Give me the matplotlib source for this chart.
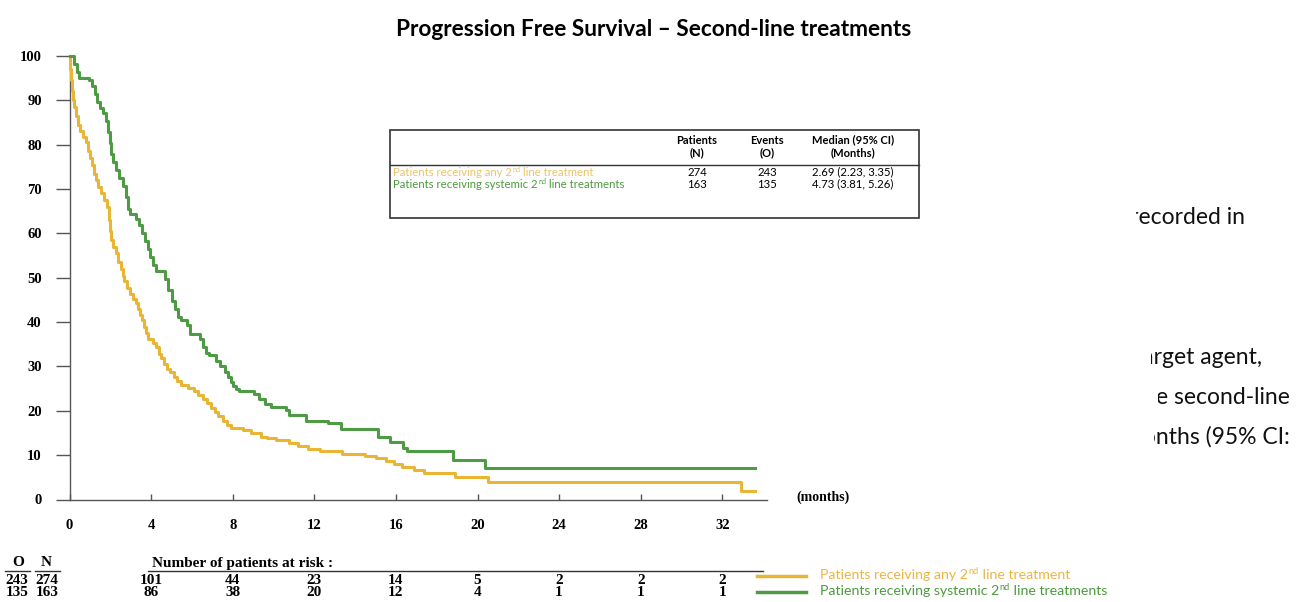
import matplotlib
matplotlib.use("Agg")
import matplotlib.pyplot as plt
from matplotlib.transforms import Bbox, TransformedBbox

# ---------------- data ----------------
title = "Progression Free Survival – Second-line treatments"

any_t = [0, 0.02, 0.05, 0.1, 0.15, 0.2, 0.3, 0.4, 0.5, 0.65, 0.8, 0.9, 1.0, 1.1, 1.2, 1.3, 1.4,
         1.55, 1.7, 1.85, 1.92, 1.98, 2.05, 2.15, 2.3, 2.4, 2.5, 2.6, 2.69, 2.8, 2.95, 3.1, 3.25,
         3.35, 3.45, 3.55, 3.65, 3.75, 3.85, 4.1, 4.25, 4.4, 4.5, 4.65, 4.8, 4.95, 5.1, 5.25, 5.45,
         5.8, 6.1, 6.3, 6.55, 6.75, 6.95, 7.15, 7.3, 7.5, 7.7, 7.9, 8.5, 8.9, 9.4, 9.7, 10.1,
         10.75, 11.2, 11.7, 12.3, 13.35, 14.5, 15.0, 15.5, 15.9, 16.3, 16.9, 17.4, 18.9, 20.5,
         32.9, 33.6]
any_s = [100, 97, 94.5, 92, 90, 88.4, 86.5, 84.5, 83.2, 81.8, 80.5, 78.5, 77, 75.5, 73.5, 72, 70.4,
         69, 67.5, 66, 63, 60.5, 58.5, 57, 55.5, 53.5, 52, 50.5, 49.3, 47.8, 46.4, 45.3, 44.2,
         43.0, 41.7, 40.5, 39.0, 37.5, 36.2, 35.4, 34.3, 32.8, 31.8, 30.6, 29.5, 28.8, 27.6, 26.8, 25.8,
         25.1, 24.4, 23.5, 22.6, 21.7, 20.7, 19.8, 18.9, 17.8, 16.8, 16.1, 15.6, 14.9, 14.2, 13.8, 13.4,
         12.8, 12.1, 11.3, 10.9, 10.3, 9.8, 9.3, 8.6, 8.0, 7.4, 6.6, 6.0, 5.1, 4.0,
         2.0, 2.0]

sys_t = [0, 0.2, 0.35, 0.45, 0.95, 1.1, 1.25, 1.35, 1.5, 1.65, 1.8, 1.9, 1.97, 2.05, 2.15, 2.3,
         2.45, 2.6, 2.75, 2.85, 2.95, 3.25, 3.4, 3.55, 3.7, 3.85, 3.95, 4.1, 4.25, 4.7, 4.85, 5.0,
         5.15, 5.3, 5.45, 5.75, 5.9, 6.4, 6.55, 6.7, 6.85, 7.2, 7.4, 7.6, 7.75, 7.9, 8.0, 8.15, 8.3,
         9.05, 9.3, 9.6, 9.9, 10.6, 10.75, 11.6, 12.65, 13.3, 15.1, 15.7, 16.35, 16.55, 18.8, 20.35,
         33.6]
sys_s = [100, 98.2, 96.3, 95.1, 94.5, 93.3, 91.4, 89.6, 88.3, 87.1, 85.3, 82.8, 80.4, 77.9, 76.1, 74.2,
         72.4, 70.6, 68.1, 65.6, 64.4, 63.2, 62.0, 60.1, 58.3, 56.4, 54.6, 52.8, 51.5, 49.7, 47.2, 44.8,
         42.9, 41.1, 40.5, 39.3, 37.4, 36.2, 34.4, 33.1, 32.5, 31.3, 30.1, 28.8, 27.6, 26.4, 25.6, 25.0, 24.4,
         23.9, 22.7, 21.5, 20.9, 20.2, 19.0, 17.8, 17.2, 15.9, 14.1, 12.9, 11.7, 10.9, 8.9, 7.1,
         7.1]

x_ticks = [0, 4, 8, 12, 16, 20, 24, 28, 32]
x_labels = ["0", "4", "8", "12", "16", "20", "24", "28", "32"]
y_ticks = [0, 10, 20, 30, 40, 50, 60, 70, 80, 90, 100]

risk_times = [4, 8, 12, 16, 20, 24, 28, 32]
risk_any = [101, 44, 23, 14, 5, 2, 2, 2]
risk_sys = [86, 38, 20, 12, 4, 1, 1, 1]
events = [243, 135]
patients = [274, 163]

# group names split as (before superscript, superscript, after)
group_names = [("Patients receiving any 2", "nd", " line treatment"),
               ("Patients receiving systemic 2", "nd", " line treatments")]
medians = ["2.69 (2.23, 3.35)", "4.73 (3.81, 5.26)"]

body_fragments = ["is recorded in", "target agent,", "e second-line", "months (95% CI:"]

# ---------------- style ----------------
W, H = 1298, 602
c_any = "#E8B634"
c_sys = "#4F9A45"
c_any_txt = "#EDB443"
c_any_tbl = "#E9C46A"
c_sys_txt = "#4E9A40"
serif = ["Liberation Serif", "DejaVu Serif"]
lato = ["Lato", "DejaVu Sans"]

fig = plt.figure(figsize=(W / 100, H / 100), dpi=100)
renderer = fig.canvas.get_renderer()


def fx(x):
    return x / W


def fy(y):
    return 1 - y / H


def rich_text(x_px, y_px, parts, size, sup_size, rise, color):
    """Place 'before', superscript, 'after' one after another (pixel coords)."""
    before, sup, after = parts
    cur = x_px
    t1 = fig.text(fx(cur), fy(y_px), before, family=lato, fontsize=size, color=color,
                  ha="left", va="center")
    cur += t1.get_window_extent(renderer).width
    t2 = fig.text(fx(cur + 0.5), fy(y_px - rise), sup, family=lato, fontsize=sup_size, color=color,
                  ha="left", va="center")
    cur += t2.get_window_extent(renderer).width + 0.5
    fig.text(fx(cur), fy(y_px), after, family=lato, fontsize=size, color=color,
             ha="left", va="center")


XMAX = 34.2
x0, ppm = 69.5, 20.4
x1 = x0 + ppm * XMAX
y0, y100 = 499.5, 56.0
ax = fig.add_axes([fx(x0), fy(y0), fx(x1) - fx(x0), fy(y100) - fy(y0)])
ax.set_xlim(0, XMAX)
ax.set_ylim(0, 100)
ax.step(any_t, any_s, where="post", color=c_any, lw=2.2, clip_on=False, zorder=3)
ax.step(sys_t, sys_s, where="post", color=c_sys, lw=2.2, clip_on=False, zorder=4)
for s in ["top", "right"]:
    ax.spines[s].set_visible(False)
ax.spines["left"].set_color("#555555")
ax.spines["bottom"].set_color("#555555")
ax.spines["left"].set_linewidth(1.0)
ax.spines["bottom"].set_linewidth(1.0)
ax.set_xticks(x_ticks)
ax.set_xticklabels(x_labels, fontfamily=serif, fontweight="bold", fontsize=10.5)
ax.set_yticks(y_ticks)
ax.set_yticklabels([str(v) for v in y_ticks], fontfamily=serif, fontweight="bold", fontsize=10.5)
ax.tick_params(axis="x", direction="in", length=4, width=1, color="#555555", pad=14)
ax.tick_params(axis="y", direction="out", length=10, width=1, color="#555555", pad=10)

fig.text(fx(796), fy(497), "(months)", family=serif, fontweight="bold", fontsize=10,
         ha="left", va="center")

fig.text(fx(654), fy(29), title, family=lato, fontweight="bold", fontsize=16.3,
         ha="center", va="center")

# ---------------- summary table ----------------
bx0, bx1, by0, by1 = 390, 919, 130, 218
fig.add_artist(plt.Rectangle((fx(bx0), fy(by1)), fx(bx1) - fx(bx0), fy(by0) - fy(by1),
                             transform=fig.transFigure, fill=False, ec="#333333", lw=1.2))
fig.add_artist(plt.Line2D([fx(bx0), fx(bx1)], [fy(165), fy(165)], transform=fig.transFigure,
                          color="#333333", lw=1.0))
hfs = 8
rfs_t = 8.2
cols = [697, 767, 853]
hdr1 = ["Patients", "Events", "Median (95% CI)"]
hdr2 = ["(N)", "(O)", "(Months)"]
for cx, h1, h2 in zip(cols, hdr1, hdr2):
    fig.text(fx(cx), fy(140), h1, family=lato, fontweight="bold", fontsize=hfs, ha="center", va="center")
    fig.text(fx(cx), fy(153), h2, family=lato, fontweight="bold", fontsize=hfs, ha="center", va="center")
row_y = [172, 184]
row_cols = [c_any_tbl, c_sys_txt]
for i in range(2):
    rich_text(393, row_y[i], group_names[i], rfs_t, 5.2, 3, row_cols[i])
    fig.text(fx(cols[0]), fy(row_y[i]), str(patients[i]), family=lato, fontsize=rfs_t, ha="center", va="center")
    fig.text(fx(cols[1]), fy(row_y[i]), str(events[i]), family=lato, fontsize=rfs_t, ha="center", va="center")
    fig.text(fx(cols[2]), fy(row_y[i]), medians[i], family=lato, fontsize=rfs_t, ha="center", va="center")

# ---------------- risk table ----------------
rfs = 11
fig.text(fx(18), fy(563), "O", family=serif, fontweight="bold", fontsize=rfs, ha="center", va="center")
fig.text(fx(46), fy(563), "N", family=serif, fontweight="bold", fontsize=rfs, ha="center", va="center")
fig.text(fx(152), fy(563), "Number of patients at risk :", family=serif, fontweight="bold",
         fontsize=rfs, ha="left", va="center")
for xa, xb in [(5, 30), (35, 60), (148, 763)]:
    fig.add_artist(plt.Line2D([fx(xa), fx(xb)], [fy(571), fy(571)], transform=fig.transFigure,
                              color="#333333", lw=1.0))
for i, (vals, yy) in enumerate(zip([risk_any, risk_sys], [580, 593])):
    fig.text(fx(17), fy(yy), str(events[i]), family=serif, fontweight="bold", fontsize=rfs,
             ha="center", va="center")
    fig.text(fx(47), fy(yy), str(patients[i]), family=serif, fontweight="bold", fontsize=rfs,
             ha="center", va="center")
    for t, v in zip(risk_times, vals):
        xp = x0 + ppm * t
        fig.text(fx(xp), fy(yy), str(v), family=serif, fontweight="bold", fontsize=rfs,
                 ha="center", va="center")

# legend
for yy, col, tcol, parts in [(576, c_any, c_any_txt, group_names[0]),
                             (592, c_sys, c_sys_txt, group_names[1])]:
    fig.add_artist(plt.Line2D([fx(757), fx(806)], [fy(yy), fy(yy)], transform=fig.transFigure,
                              color=col, lw=2.5))
    rich_text(820, yy - 1, parts, 10.2, 6.6, 4, tcol)

# ---------------- body text fragments (partially covered) ----------------
frag_pos = [(1245, 218, 1136), (1262, 357, 1151), (1290, 398, 1158), (1290, 437, 1154)]
for txt, (xr, yy, clipx) in zip(body_fragments, frag_pos):
    t = fig.text(fx(xr), fy(yy), txt, family=lato, fontsize=16.5, ha="right", va="center",
                 color="#111111")
    t.set_clip_on(True)
    t.set_clip_box(TransformedBbox(Bbox([[fx(clipx), 0], [1, 1]]), fig.transFigure))

fig.savefig("out.png", dpi=100)
